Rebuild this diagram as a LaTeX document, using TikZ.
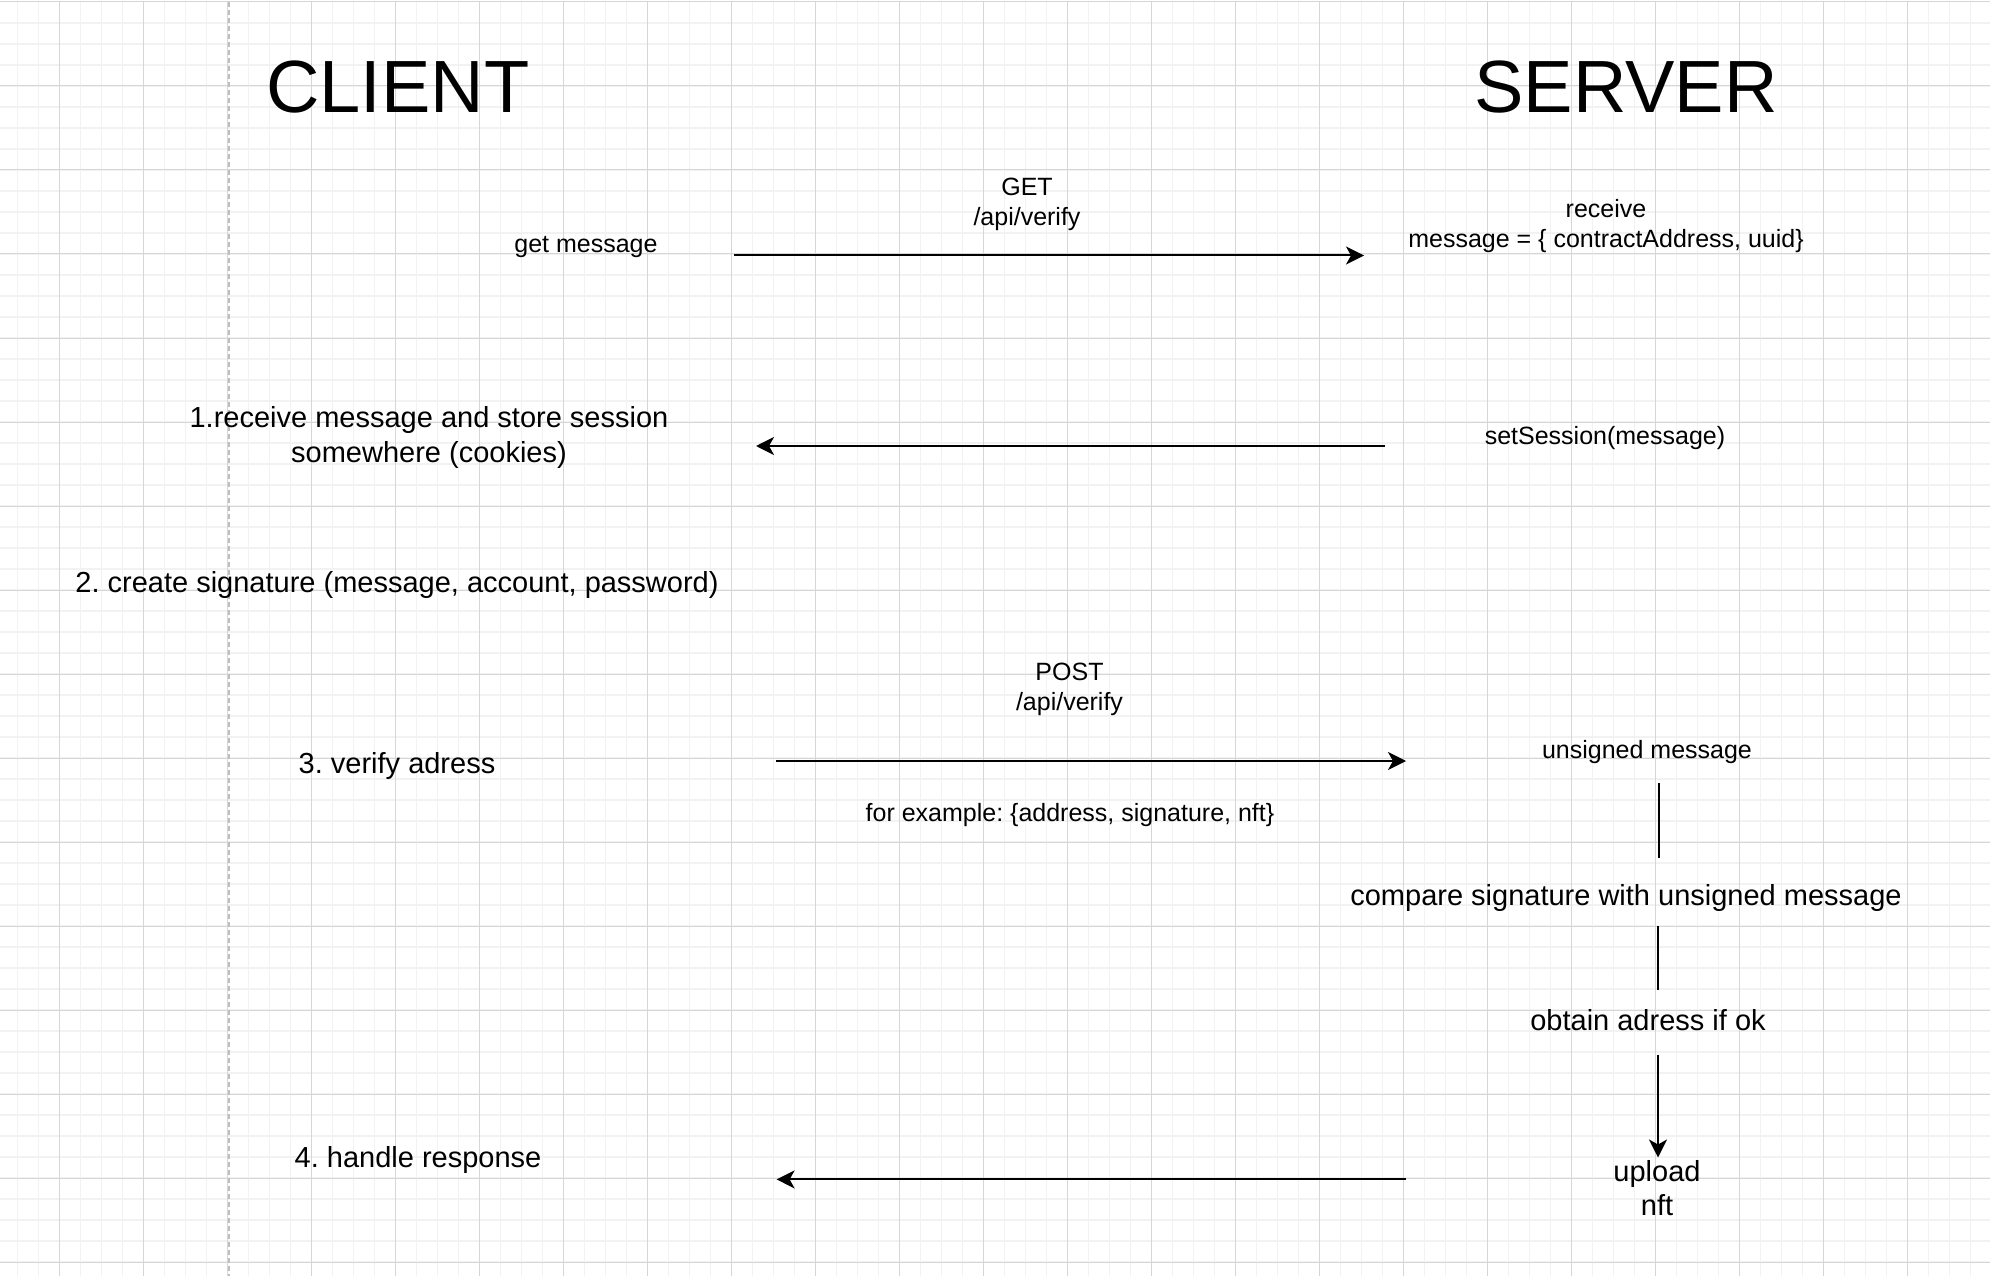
\documentclass[tikz,border=0pt]{standalone}
\usepackage{fontspec}
\setmainfont{Liberation Sans}
\usetikzlibrary{arrows.meta}
\frenchspacing
\definecolor{gridminor}{HTML}{F2F2F2}
\definecolor{gridmajor}{HTML}{D6D6D6}
\definecolor{pagebreak}{HTML}{BEBEBE}
\tikzset{
  big/.style={font=\fontsize{74}{88}\selectfont, inner sep=0pt, anchor=base},
  med/.style={font=\fontsize{29}{34.5}\selectfont, inner sep=0pt, anchor=base},
  sml/.style={font=\fontsize{25}{30}\selectfont, inner sep=0pt, anchor=base},
  msg/.style={line width=2pt, -{Stealth[length=18pt,width=18pt,inset=5pt]}},
  link/.style={line width=2pt},
  minorline/.style={gridminor, line width=1.5pt},
  majorline/.style={gridmajor, line width=1pt},
}
\begin{document}
\begin{tikzpicture}[x=1pt, y=-1pt]
\useasboundingbox[fill=white] (0,0) rectangle (1990,1276);
% grid
\foreach \i in {0,...,93} \draw[minorline] ({17.3+21*\i},2) -- ({17.3+21*\i},1276);
\foreach \j in {1,...,60} \draw[minorline] (0,{2+21*\j}) -- (1990,{2+21*\j});
\foreach \i in {0,...,22} \draw[majorline] ({59.3+84*\i},2) -- ({59.3+84*\i},1276);
\foreach \j in {0,...,15} \draw[majorline] (0,{2+84*\j}) -- (1990,{2+84*\j});
\draw[pagebreak, line width=1.6pt, dash pattern=on 5pt off 3pt] (229,2) -- (229,1276);

% titles
\node[big] (client) at (398,113) {CLIENT};
\node[big] (server) at (1626,113) {SERVER};

% texts
\node[sml] (getmsg) at (586,253) {get message};
\node[sml] (getlbl) at (1027,195.7) {\begin{tabular}[t]{@{}c@{}}GET\\/api/verify\end{tabular}};
\node[sml] (recv) at (1606,218) {\begin{tabular}[t]{@{}c@{}}receive\\message = \{ contractAddress, uuid\}\end{tabular}};
\node[med] (store) at (429,427.7) {\begin{tabular}[t]{@{}c@{}}1.receive message and store session\\somewhere (cookies)\end{tabular}};
\node[sml] (setsess) at (1605,444.3) {setSession(message)};
\node[med] (sign) at (397,592) {2. create signature (message, account, password)};
\node[sml] (postlbl) at (1069.5,680) {\begin{tabular}[t]{@{}c@{}}POST\\/api/verify\end{tabular}};
\node[med] (verify) at (397,773.3) {3. verify adress};
\node[sml] (example) at (1070,821.7) {for example: \{address, signature, nft\}};
\node[sml] (unsigned) at (1647,758.8) {unsigned message};
\node[med] (compare) at (1626,905.7) {compare signature with unsigned message};
\node[med] (obtain) at (1648,1030.6) {obtain adress if ok};
\node[med] (upload) at (1657,1181) {\begin{tabular}[t]{@{}c@{}}upload\\nft\end{tabular}};
\node[med] (handle) at (418,1167.3) {4. handle response};

% connector end points
\coordinate (a1s) at (734,255.5);   \coordinate (a1e) at (1364,255.5);
\coordinate (a2s) at (1385,446);    \coordinate (a2e) at (756,446);
\coordinate (a3s) at (776,761);     \coordinate (a3e) at (1406,761);
\coordinate (l1s) at (1658.5,783);  \coordinate (l1e) at (1658.5,858);
\coordinate (l2s) at (1657.5,926);  \coordinate (l2e) at (1657.5,990);
\coordinate (a4s) at (1658,1054.5); \coordinate (a4e) at (1658,1157.5);
\coordinate (a5s) at (1406,1179.4); \coordinate (a5e) at (776.6,1179.4);

% connectors
\draw[msg] (a1s) -- (a1e);
\draw[msg] (a2s) -- (a2e);
\draw[msg] (a3s) -- (a3e);
\draw[link] (l1s) -- (l1e);
\draw[link] (l2s) -- (l2e);
\draw[msg] (a4s) -- (a4e);
\draw[msg] (a5s) -- (a5e);
\end{tikzpicture}
\end{document}
